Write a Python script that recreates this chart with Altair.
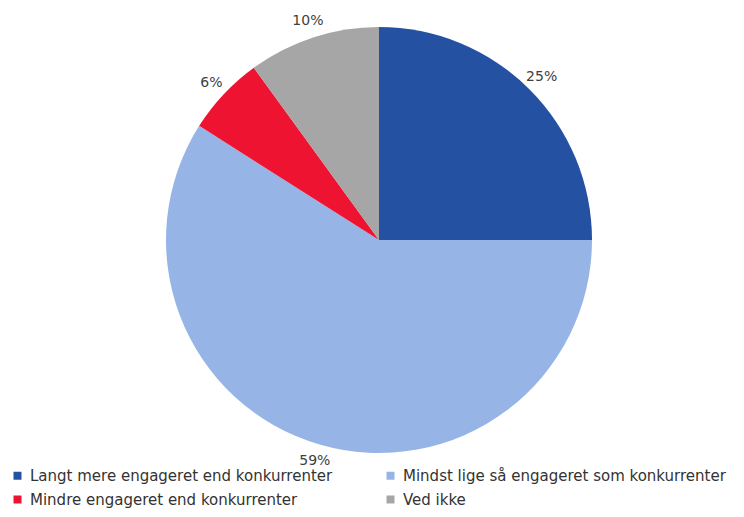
import altair as alt
import pandas as pd

categories = [
    "Langt mere engageret end konkurrenter",
    "Mindst lige så engageret som konkurrenter",
    "Mindre engageret end konkurrenter",
    "Ved ikke",
]
values = [25, 59, 6, 10]
labels = ["25%", "59%", "6%", "10%"]
colors = ["#2451A1", "#97B4E6", "#EE1431", "#A6A6A6"]

df = pd.DataFrame({
    "cat": categories,
    "val": values,
    "lab": labels,
    "ord": list(range(len(categories))),
})

CX, CY, R = 371, 232, 213

base = alt.Chart(df).encode(
    theta=alt.Theta("val:Q", stack=True),
    order=alt.Order("ord:Q"),
)

pie = base.mark_arc(outerRadius=R, x=CX, y=CY, strokeWidth=0).encode(
    color=alt.Color(
        "cat:N",
        scale=alt.Scale(domain=categories, range=colors),
        sort=categories,
        legend=alt.Legend(
            title=None,
            orient="none",
            legendX=2,
            legendY=460,
            columns=2,
            direction="horizontal",
            symbolType="square",
            symbolSize=64,
            symbolStrokeWidth=0,
            labelFont="DejaVu Sans",
            labelFontSize=15,
            labelColor="#333333",
            labelLimit=500,
            columnPadding=50,
            rowPadding=8,
            symbolOffset=0,
            labelOffset=5,
        ),
    )
)

text = base.mark_text(radius=R + 17, x=CX, y=CY, font="DejaVu Sans", fontSize=14, color="#404040").encode(
    text="lab:N"
)

chart = (pie + text).properties(
    width=728, height=501, autosize=alt.AutoSizeParams(type="none"), padding=0
).configure_view(stroke=None)

chart.save("out.html", embed_options={"renderer": "svg", "actions": False})
